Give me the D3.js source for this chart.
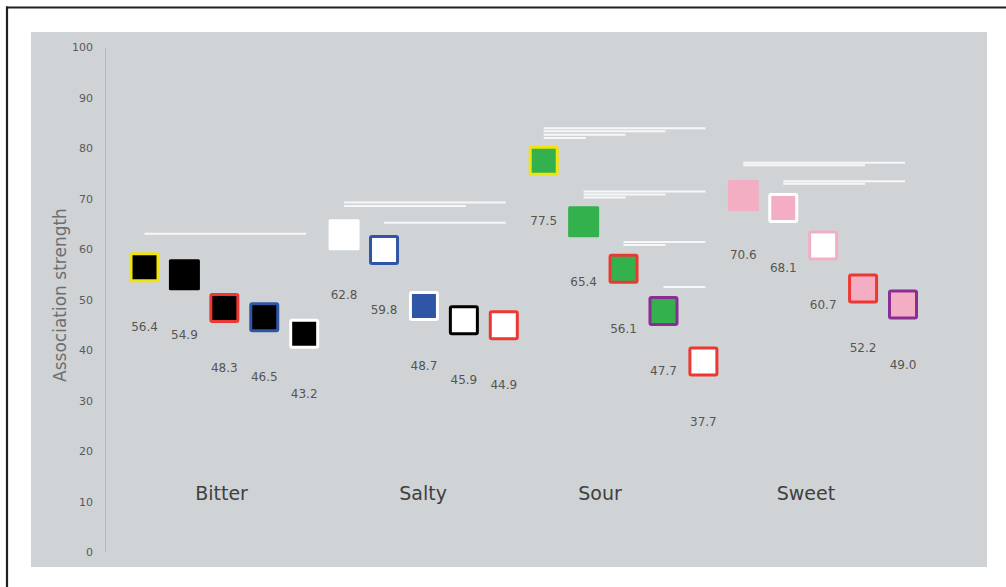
<!DOCTYPE html>
<html>
<head>
<meta charset="utf-8">
<script src="https://cdn.jsdelivr.net/npm/d3@7"></script>
<style>
  html, body { margin: 0; padding: 0; background: #ffffff; }
  svg { display: block; }
  text { font-family: "DejaVu Sans", Verdana, sans-serif; }
</style>
</head>
<body>
<svg id="chart" width="1006" height="587"></svg>
<script>
// Tastes and their five association scores each
const tastes = ["Bitter", "Salty", "Sour", "Sweet"];
const bitterValues = [56.4, 54.9, 48.3, 46.5, 43.2];
const saltyValues  = [62.8, 59.8, 48.7, 45.9, 44.9];
const sourValues   = [77.5, 65.4, 56.1, 47.7, 37.7];
const sweetValues  = [70.6, 68.1, 60.7, 52.2, 49.0];
const yTicks = [0, 10, 20, 30, 40, 50, 60, 70, 80, 90, 100];

// Marker colours: inner fill and outline (null = no outline)
const BLACK = "#000000", WHITE = "#ffffff", YELLOW = "#f1e40a", RED = "#ec3832",
      BLUE = "#2f56a6", PURPLE = "#8a2e94", GREEN = "#33b14c", PINK = "#f3aec3";
const bitterFills   = [BLACK, BLACK, BLACK, BLACK, BLACK];
const bitterStrokes = [YELLOW, null, RED, BLUE, WHITE];
const saltyFills    = [WHITE, WHITE, BLUE, WHITE, WHITE];
const saltyStrokes  = [null, BLUE, WHITE, BLACK, RED];
const sourFills     = [GREEN, GREEN, GREEN, GREEN, WHITE];
const sourStrokes   = [YELLOW, null, RED, PURPLE, RED];
const sweetFills    = [PINK, PINK, WHITE, PINK, PINK];
const sweetStrokes  = [null, WHITE, PINK, RED, PURPLE];

// Significance brackets: [from item, to item, level on the score axis]
const bitterBars = [[0, 4, 63.0]];
const saltyBars  = [[0, 4, 69.2], [0, 3, 68.5], [1, 4, 65.2]];
const sourBars   = [[0, 4, 83.9], [0, 3, 83.3], [0, 2, 82.6], [0, 1, 82.0],
                    [1, 4, 71.4], [1, 3, 70.8], [1, 2, 70.2],
                    [2, 4, 61.4], [2, 3, 60.8],
                    [3, 4, 52.5]];
const sweetBars  = [[0, 4, 77.1], [0, 3, 76.6], [1, 4, 73.4], [1, 3, 72.9]];

const groups = [
  { taste: tastes[0], values: bitterValues, fills: bitterFills, strokes: bitterStrokes, bars: bitterBars, labelAt: 1.93 },
  { taste: tastes[1], values: saltyValues,  fills: saltyFills,  strokes: saltyStrokes,  bars: saltyBars,  labelAt: 1.98 },
  { taste: tastes[2], values: sourValues,   fills: sourFills,   strokes: sourStrokes,   bars: sourBars,   labelAt: 1.41 },
  { taste: tastes[3], values: sweetValues,  fills: sweetFills,  strokes: sweetStrokes,  bars: sweetBars,  labelAt: 1.57 }
];

const items = [];
groups.forEach(g => g.values.forEach((v, i) => items.push({
  key: g.taste + i, taste: g.taste, idx: i, value: v, fill: g.fills[i], stroke: g.strokes[i]
})));

const svg = d3.select("#chart");

// Outer frame (top and left rule) and grey plot panel
svg.append("line").attr("x1", 6).attr("x2", 1006).attr("y1", 7.5).attr("y2", 7.5)
  .attr("stroke", "#231f20").attr("stroke-width", 2.2);
svg.append("line").attr("x1", 7).attr("x2", 7).attr("y1", 6.5).attr("y2", 587)
  .attr("stroke", "#231f20").attr("stroke-width", 2.2);
svg.append("rect").attr("x", 31).attr("y", 32).attr("width", 956).attr("height", 535)
  .attr("fill", "#d0d3d6");

// Scales
const y = d3.scaleLinear().domain([0, 100]).range([552, 47]);
const x = d3.scalePoint().domain(items.map(d => d.key)).range([144.5, 903]);
const step = x.step();
const groupX = (taste, pos) => x(taste + 0) + pos * step;

// Y axis
const yAxis = d3.axisLeft(y).tickValues(yTicks).tickSize(0).tickPadding(12);
const yAxisG = svg.append("g").attr("transform", "translate(105,0)").call(yAxis);
yAxisG.select(".domain").attr("stroke", "#b6b9bc").attr("stroke-width", 1);
yAxisG.selectAll(".tick text")
  .attr("fill", "#5a5a5a").attr("font-size", 11)
  .style("font-family", "'DejaVu Sans', Verdana, sans-serif");

svg.append("text")
  .attr("transform", "translate(66,295) rotate(-90)")
  .attr("text-anchor", "middle")
  .attr("font-size", 17)
  .attr("fill", "#6e6e6e")
  .text("Association strength");

// Significance brackets
const barData = [];
groups.forEach(g => g.bars.forEach(b => barData.push({ taste: g.taste, from: b[0], to: b[1], level: b[2] })));
svg.append("g").selectAll("line").data(barData).join("line")
  .attr("x1", d => x(d.taste + d.from))
  .attr("x2", d => x(d.taste + d.to) + 2)
  .attr("y1", d => y(d.level))
  .attr("y2", d => y(d.level))
  .attr("stroke", "#f6f7f8")
  .attr("stroke-width", 2);

// Square markers
const markers = svg.append("g").selectAll("rect").data(items).join("rect")
  .attr("x", d => x(d.key) - (d.stroke ? 13.5 : 15.5))
  .attr("y", d => y(d.value) - (d.stroke ? 13.5 : 15.5))
  .attr("width", d => d.stroke ? 27 : 31)
  .attr("height", d => d.stroke ? 27 : 31)
  .attr("rx", 1.5)
  .attr("fill", d => d.fill)
  .attr("stroke", d => d.stroke || "none")
  .attr("stroke-width", 3);

// Value labels under each marker
svg.append("g").selectAll("text").data(items).join("text")
  .attr("x", d => x(d.key))
  .attr("y", d => y(d.value) + 64)
  .attr("text-anchor", "middle")
  .attr("font-size", 12)
  .attr("fill", "#555555")
  .text(d => d.value.toFixed(1));

// Taste names
svg.append("g").selectAll("text").data(groups).join("text")
  .attr("x", d => groupX(d.taste, d.labelAt))
  .attr("y", 500)
  .attr("text-anchor", "middle")
  .attr("font-size", 19)
  .attr("fill", "#404040")
  .text(d => d.taste);
</script>
</body>
</html>
